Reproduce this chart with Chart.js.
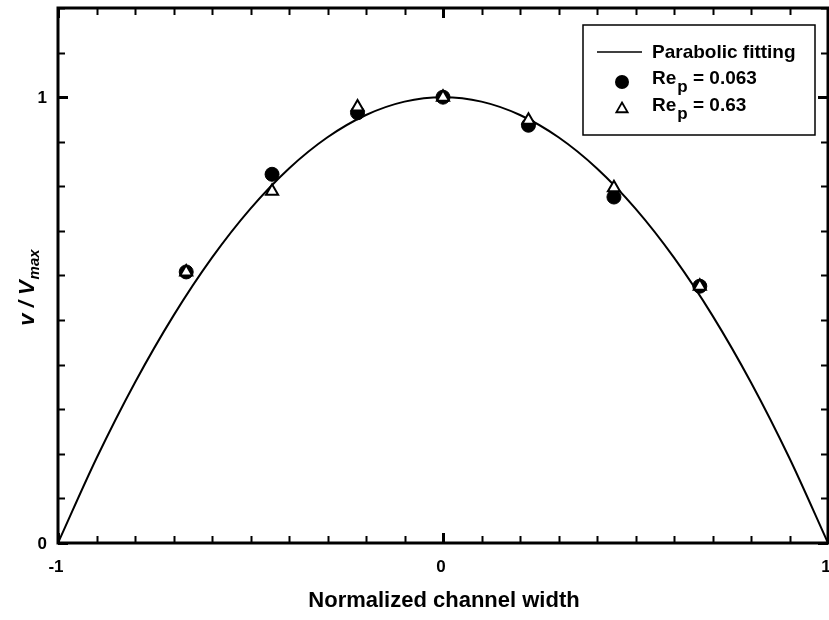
<!DOCTYPE html>
<html>
<head>
<meta charset="utf-8">
<script src="https://cdn.jsdelivr.net/npm/chart.js@4.4.1/dist/chart.umd.min.js"></script>
<style>
  html, body { margin: 0; padding: 0; background: #fff; overflow: hidden; }
  #chart { display: block; }
</style>
</head>
<body>
<canvas id="chart" width="829" height="620"></canvas>
<script>
// parabolic fit
const fitX = [-1, -0.9, -0.8, -0.7, -0.6, -0.5, -0.4, -0.3, -0.2, -0.1, 0, 0.1, 0.2, 0.3, 0.4, 0.5, 0.6, 0.7, 0.8, 0.9, 1];
const fitY = [0, 0.19, 0.36, 0.51, 0.64, 0.75, 0.84, 0.91, 0.96, 0.99, 1, 0.99, 0.96, 0.91, 0.84, 0.75, 0.64, 0.51, 0.36, 0.19, 0];

// measured points
const pointX = [-0.667, -0.444, -0.222, 0, 0.222, 0.444, 0.667];
const re0063 = [0.608, 0.827, 0.965, 1.0, 0.937, 0.776, 0.576];
const re063 = [0.608, 0.789, 0.978, 1.0, 0.948, 0.797, 0.576];

const xTickLabels = [-1, 0, 1];
const yTickLabels = [0, 1];
const minorStep = 0.1;

const FONT = "'Liberation Sans', Arial, Helvetica, sans-serif";

const toXY = (xs, ys) => xs.map((x, i) => ({ x: x, y: ys[i] }));

// frame, inward ticks, labels and the boxed legend
const axesPlugin = {
  id: 'axesPlugin',
  afterDraw(chart) {
    const ctx = chart.ctx;
    const a = chart.chartArea;
    const xs = chart.scales.x;
    const ys = chart.scales.y;
    ctx.save();
    ctx.strokeStyle = '#000';
    ctx.fillStyle = '#000';

    // ticks
    ctx.lineCap = 'butt';
    const nx = Math.round((xs.max - xs.min) / minorStep);
    for (let i = 0; i <= nx; i++) {
      const v = xs.min + i * minorStep;
      const px = Math.round(xs.getPixelForValue(v)) + 0.5;
      const major = xTickLabels.some(t => Math.abs(t - v) < 1e-6);
      const len = major ? 10 : 7;
      ctx.lineWidth = major ? 3 : 2;
      ctx.beginPath();
      ctx.moveTo(px, a.bottom); ctx.lineTo(px, a.bottom - len);
      ctx.moveTo(px, a.top); ctx.lineTo(px, a.top + len);
      ctx.stroke();
    }
    const ny = Math.round((ys.max - ys.min) / minorStep);
    for (let i = 0; i <= ny; i++) {
      const v = ys.min + i * minorStep;
      const py = Math.round(ys.getPixelForValue(v)) + 0.5;
      const major = yTickLabels.some(t => Math.abs(t - v) < 1e-6);
      const len = major ? 10 : 7;
      ctx.lineWidth = major ? 3 : 2;
      ctx.beginPath();
      ctx.moveTo(a.left, py); ctx.lineTo(a.left + len, py);
      ctx.moveTo(a.right, py); ctx.lineTo(a.right - len, py);
      ctx.stroke();
    }

    // frame
    ctx.lineWidth = 3;
    ctx.strokeRect(a.left, a.top, a.right - a.left, a.bottom - a.top);

    // tick labels
    ctx.font = 'bold 17px ' + FONT;
    ctx.textAlign = 'center';
    ctx.textBaseline = 'middle';
    xTickLabels.forEach(t => {
      ctx.fillText(String(t), xs.getPixelForValue(t) - 2, a.bottom + 24);
    });
    ctx.textAlign = 'right';
    yTickLabels.forEach(t => {
      ctx.fillText(String(t), a.left - 11, ys.getPixelForValue(t) + 1);
    });

    // x title
    ctx.textAlign = 'center';
    ctx.font = 'bold 22px ' + FONT;
    ctx.fillText('Normalized channel width', 444, 601);

    // y title: v / V_max
    ctx.save();
    ctx.translate(28, 288);
    ctx.rotate(-Math.PI / 2);
    ctx.textAlign = 'left';
    ctx.textBaseline = 'middle';
    const mainTxt = 'v / V';
    ctx.font = 'italic bold 22px ' + FONT;
    const w1 = ctx.measureText(mainTxt).width;
    ctx.font = 'italic bold 15px ' + FONT;
    const w2 = ctx.measureText('max').width;
    const x0 = -(w1 + w2) / 2;
    ctx.font = 'italic bold 22px ' + FONT;
    ctx.fillText(mainTxt, x0, 0);
    ctx.font = 'italic bold 15px ' + FONT;
    ctx.fillText('max', x0 + w1 + 1, 7);
    ctx.restore();

    // legend box
    const lx = 583, ly = 25, lw = 232, lh = 110;
    ctx.fillStyle = '#fff';
    ctx.fillRect(lx, ly, lw, lh);
    ctx.lineWidth = 1.5;
    ctx.strokeStyle = '#000';
    ctx.strokeRect(lx, ly, lw, lh);
    ctx.fillStyle = '#000';

    ctx.lineWidth = 1.5;
    ctx.beginPath();
    ctx.moveTo(597, 52); ctx.lineTo(642, 52);
    ctx.stroke();

    ctx.beginPath();
    ctx.arc(622, 82, 7, 0, Math.PI * 2);
    ctx.fill();

    const tr = 6.5;
    const tcx = 622, tcy = 109;
    ctx.lineWidth = 1.8;
    ctx.beginPath();
    ctx.moveTo(tcx, tcy - tr);
    ctx.lineTo(tcx + tr * 0.87, tcy + tr * 0.5);
    ctx.lineTo(tcx - tr * 0.87, tcy + tr * 0.5);
    ctx.closePath();
    ctx.stroke();

    ctx.textAlign = 'left';
    ctx.textBaseline = 'middle';
    ctx.font = 'bold 19px ' + FONT;
    ctx.fillText('Parabolic fitting', 652, 53);

    const reLabel = (y, val) => {
      ctx.font = 'bold 19px ' + FONT;
      ctx.fillText('Re', 652, y);
      const wr = ctx.measureText('Re').width;
      ctx.font = 'bold 17px ' + FONT;
      ctx.fillText('p', 652 + wr + 1, y + 8);
      const wp = ctx.measureText('p').width;
      ctx.font = 'bold 19px ' + FONT;
      ctx.fillText(' = ' + val, 652 + wr + wp + 1, y);
    };
    reLabel(79, '0.063');
    reLabel(106, '0.63');

    ctx.restore();
  }
};

new Chart(document.getElementById('chart'), {
  type: 'scatter',
  data: {
    datasets: [
      {
        label: 'Re_p = 0.63',
        data: toXY(pointX, re063),
        pointStyle: 'triangle',
        pointRadius: 7,
        pointBackgroundColor: '#fff',
        pointBorderColor: '#000',
        pointBorderWidth: 2,
        order: 0
      },
      {
        label: 'Re_p = 0.063',
        data: toXY(pointX, re0063),
        pointStyle: 'circle',
        pointRadius: 7,
        pointBackgroundColor: '#000',
        pointBorderColor: '#000',
        pointBorderWidth: 1,
        order: 1
      },
      {
        label: 'Parabolic fitting',
        data: toXY(fitX, fitY),
        showLine: true,
        borderColor: '#000',
        borderWidth: 2,
        pointRadius: 0,
        cubicInterpolationMode: 'monotone',
        order: 2
      }
    ]
  },
  options: {
    responsive: false,
    maintainAspectRatio: false,
    animation: false,
    devicePixelRatio: 1,
    layout: { autoPadding: false, padding: { left: 58, right: 1, top: 8, bottom: 77 } },
    plugins: {
      legend: { display: false },
      tooltip: { enabled: false }
    },
    scales: {
      x: { type: 'linear', min: -1, max: 1, display: false },
      y: { type: 'linear', min: 0, max: 1.2, display: false }
    }
  },
  plugins: [axesPlugin]
});
</script>
</body>
</html>
